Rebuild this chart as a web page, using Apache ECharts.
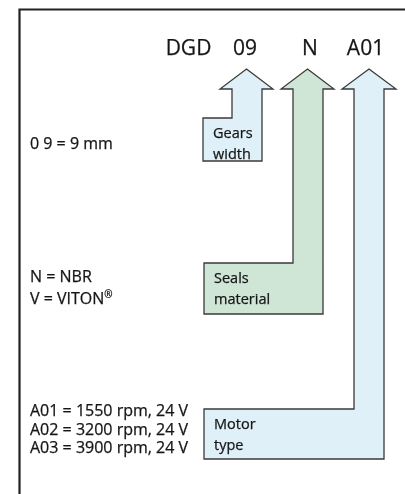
<!DOCTYPE html>
<html><head><meta charset="utf-8">
<script src="https://cdn.jsdelivr.net/npm/echarts@6/dist/echarts.min.js"></script>
<style>html,body{margin:0;padding:0;background:#fff}#c{width:405px;height:494px}</style>
</head><body><div id="c"></div>
<script>
// Diagram units (x: 0..405, y: 0..494, top-down)
const codeLabels = ['DGD', '09', 'N', 'A01'];
const codeX = [188.5, 245, 310, 365.5];
const codeBaseY = 57;

const arrowNames = ['Gears\nwidth', 'Seals\nmaterial', 'Motor\ntype'];
const arrowTipX = [246.5, 307.5, 369];
const arrowTipY = [69, 69, 69];
const arrowHeadBaseY = [89, 89, 89];
const arrowHeadL = [220, 281, 342];
const arrowHeadR = [273, 334, 396];
const arrowShaftL = [232, 293, 354];
const arrowShaftR = [262, 323, 384];
const boxLeft = [203, 204, 204];
const boxTop = [118, 263, 409];
const boxBottom = [161, 314, 459];
const arrowKind = ['blue', 'green', 'blue'];

const legendLines = [
  ['0 9 = 9 mm'],
  ['N = NBR', 'V = VITON{sup|®}'],
  ['A01 = 1550 rpm, 24 V', 'A02 = 3200 rpm, 24 V', 'A03 = 3900 rpm, 24 V']
];
const legendBaseY = [[150], [283, 305], [417, 436, 454]];

const FILL = { blue: '#e0f0f8', green: '#cfe6d6' };
const FONT = '"Open Sans", "Noto Sans", sans-serif';

const chart = echarts.init(document.getElementById('c'), null, { renderer: 'canvas' });

function textEl(api, str, x, baseY, size, align) {
  const p = api.coord([x, baseY - size * 0.36]);
  return { type: 'text', style: { text: str, x: p[0], y: p[1], fill: '#151515',
    font: size + 'px ' + FONT, fontSize: size, fontFamily: FONT, align: align || 'left', verticalAlign: 'middle',
    stroke: '#151515', lineWidth: 0.25,
    rich: { sup: { fontSize: size * 0.62, fontFamily: FONT, verticalAlign: 'top', padding: [0, 0, size * 0.5, 0] } } } };
}

chart.setOption({
  animation: false,
  grid: { left: 0, right: 0, top: 0, bottom: 0 },
  xAxis: { type: 'value', min: 0, max: 405, show: false },
  yAxis: { type: 'value', min: 0, max: 494, inverse: true, show: false },
  series: [
    { // frame
      type: 'custom', clip: false, data: [0],
      renderItem: (params, api) => {
        const pts = [[19.5, 500], [19.5, 9.5], [410, 9.5]].map(q => api.coord(q));
        return { type: 'polyline', shape: { points: pts }, style: { stroke: '#222', lineWidth: 2.2, fill: null } };
      }
    },
    { // arrows
      type: 'custom', clip: false, data: arrowNames.map((_, i) => i),
      renderItem: (params, api) => {
        const i = api.value(0);
        const raw = [
          [arrowTipX[i], arrowTipY[i]],
          [arrowHeadR[i], arrowHeadBaseY[i]],
          [arrowShaftR[i], arrowHeadBaseY[i]],
          [arrowShaftR[i], boxBottom[i]],
          [boxLeft[i], boxBottom[i]],
          [boxLeft[i], boxTop[i]],
          [arrowShaftL[i], boxTop[i]],
          [arrowShaftL[i], arrowHeadBaseY[i]],
          [arrowHeadL[i], arrowHeadBaseY[i]]
        ];
        const lines = arrowNames[i].split('\n');
        const children = [{ type: 'polygon', shape: { points: raw.map(q => api.coord(q)) },
          style: { fill: FILL[arrowKind[i]], stroke: '#3a3a3a', lineWidth: 1.3 } }];
        lines.forEach((t, k) => children.push(textEl(api, t, boxLeft[i] + 10, boxTop[i] + 21 + k * 21, 14.5)));
        return { type: 'group', children };
      }
    },
    { // code header
      type: 'custom', clip: false, data: codeLabels.map((_, i) => i),
      renderItem: (params, api) => {
        const i = api.value(0);
        return textEl(api, codeLabels[i], codeX[i], codeBaseY, 21, 'center');
      }
    },
    { // legend texts
      type: 'custom', clip: false, data: legendLines.map((_, i) => i),
      renderItem: (params, api) => {
        const i = api.value(0);
        return { type: 'group', children: legendLines[i].map((t, k) => textEl(api, t, 30, legendBaseY[i][k], 16)) };
      }
    }
  ]
});
</script></body></html>
